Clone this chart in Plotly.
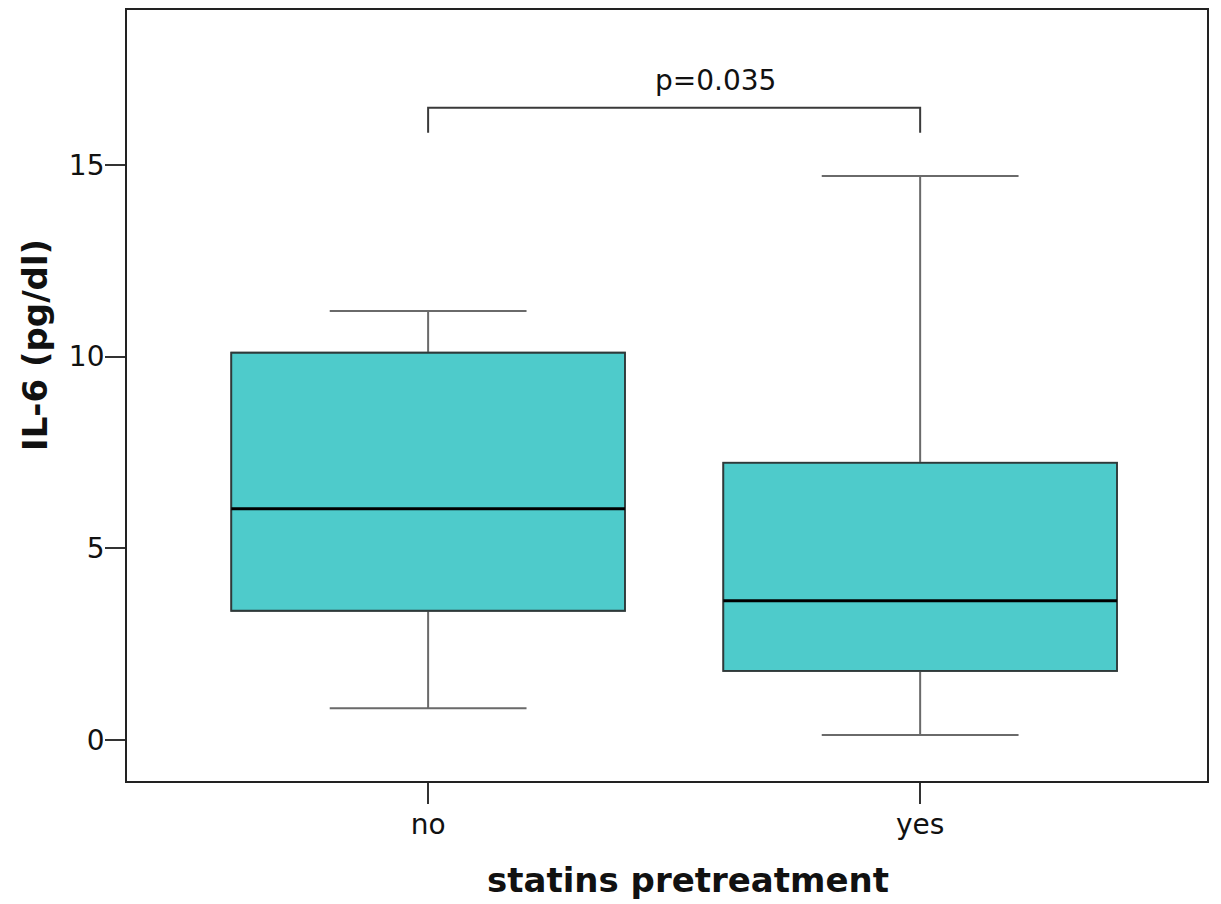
import plotly.graph_objects as go

groups = ["no", "yes"]
positions = [0, 1]
q1 = [3.37, 1.80]
median = [6.03, 3.63]
q3 = [10.10, 7.23]
lower_whisker = [0.83, 0.13]
upper_whisker = [11.19, 14.71]
y_ticks = [0, 5, 10, 15]
p_label = "p=0.035"
bracket_y = 16.49
bracket_leg = 15.84
box_width = 0.8

FONT = "DejaVu Sans"
# page body has an 8px default margin; figure is sized/offset to compensate
OFF = 8
W, H = 1221 - OFF, 904 - OFF
L, T = 127 - OFF, 10 - OFF
PW, PH = 1080, 771

fig = go.Figure()
# whiskers (grey)
fig.add_trace(go.Box(
    x=positions, q1=q1, median=median, q3=q3,
    lowerfence=lower_whisker, upperfence=upper_whisker,
    width=box_width, whiskerwidth=0.5,
    fillcolor="#4ECBCB", line=dict(color="#6a6a6a", width=2),
    boxpoints=False, showlegend=False, hoverinfo="skip",
))
# box outline (dark) over the whisker trace
fig.add_trace(go.Box(
    x=positions, q1=q1, median=median, q3=q3,
    lowerfence=q1, upperfence=q3,
    width=box_width, whiskerwidth=0,
    fillcolor="#4ECBCB", line=dict(color="#2e3a3a", width=1.8),
    boxpoints=False, showlegend=False, hoverinfo="skip",
))
for p, m in zip(positions, median):
    fig.add_trace(go.Scatter(
        x=[p - box_width / 2, p + box_width / 2], y=[m, m], mode="lines",
        line=dict(color="#000000", width=3), showlegend=False, hoverinfo="skip",
    ))
fig.add_trace(go.Scatter(
    x=[positions[0], positions[0], positions[1], positions[1]],
    y=[bracket_leg, bracket_y, bracket_y, bracket_leg], mode="lines",
    line=dict(color="#3a3a3a", width=2), showlegend=False, hoverinfo="skip",
))
fig.add_annotation(x=0.585, y=17.2, xref="x", yref="y", text=p_label,
                   showarrow=False, yanchor="middle",
                   font=dict(family=FONT, size=28, color="#111"))


def px_x(x):
    return (x - 127) / PW


def px_y(y):
    return (781 - y) / PH


fig.add_annotation(x=px_x(688), y=px_y(880), xref="paper", yref="paper",
                   text="<b>statins pretreatment</b>", showarrow=False,
                   xanchor="center", yanchor="middle",
                   font=dict(family=FONT, size=34, color="#111"))
fig.add_annotation(x=px_x(35), y=px_y(345), xref="paper", yref="paper",
                   text="<b>IL-6 (pg/dl)</b>", textangle=-90, showarrow=False,
                   xanchor="center", yanchor="middle",
                   font=dict(family=FONT, size=34, color="#111"))

fig.update_layout(
    width=W, height=H,
    margin=dict(l=L, r=W - L - PW, t=T, b=H - T - PH, autoexpand=False),
    paper_bgcolor="white", plot_bgcolor="white",
    font=dict(family=FONT, size=28, color="#111"),
    boxmode="overlay",
    xaxis=dict(range=[-0.612, 1.583], tickvals=positions, ticktext=groups,
               showgrid=False, zeroline=False, showline=True, mirror=True,
               linecolor="#222", linewidth=1.8, ticks="outside", ticklen=21,
               tickcolor="#333", tickwidth=1.6, tickfont=dict(size=28),
               ticklabelstandoff=-4),
    yaxis=dict(range=[-1.07, 19.04], tickvals=y_ticks,
               showgrid=False, zeroline=False, showline=True, mirror=True,
               linecolor="#222", linewidth=1.8, ticks="outside", ticklen=20,
               tickcolor="#333", tickwidth=1.6, tickfont=dict(size=28),
               ticklabelstandoff=-5),
)

fig.write_html("out.html")
